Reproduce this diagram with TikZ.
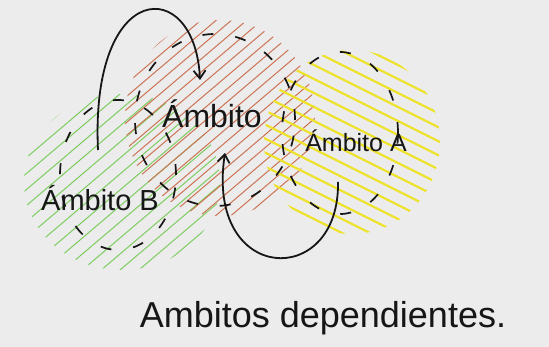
\documentclass[tikz,border=0pt]{standalone}
\usepackage{fontspec}
\setmainfont{Liberation Sans}
\usetikzlibrary{arrows.meta,shapes.geometric}
\definecolor{bg}{RGB}{236,236,236}
\definecolor{hgreen}{RGB}{125,205,95}
\definecolor{hred}{RGB}{205,115,85}
\definecolor{hyellow}{RGB}{238,226,40}
\definecolor{ink}{RGB}{22,22,22}
\begin{document}
\begin{tikzpicture}[x=1pt,y=-1pt,
  region/.style={draw=ink, line width=1.7pt, dash pattern=on 11pt off 22pt, ellipse, inner sep=0pt},
  hatchg/.style={hgreen, line width=1pt},
  hatchr/.style={hred, line width=1pt},
  hatchy/.style={hyellow, line width=2.2pt},
  flow/.style={ink, line width=1.8pt, -{Straight Barb[length=8pt,width=12pt,line width=1.8pt]}},
  lbl/.style={text=ink, inner sep=0pt}
]
\fill[bg] (0,0) rectangle (549,347);
\useasboundingbox (0,0) rectangle (549,347);

% green hatching (Ambito B)
\begin{scope}
  \clip (122,182) ellipse [x radius=98, y radius=88];
  \foreach \c in {100,116,...,520} \draw[hatchg] (0,\c) -- (550,\c-467.5);
\end{scope}
% red hatching (Ambito)
\begin{scope}
  \clip (220,118) ellipse [x radius=95, y radius=98];
  \foreach \c in {100,113,...,560} \draw[hatchr] (0,\c) -- (550,\c-467.5);
\end{scope}
% yellow hatching (Ambito A)
\begin{scope}
  \clip (352,142) ellipse [x radius=88, y radius=92];
  \foreach \c in {-260,-246,...,120} \draw[hatchy] (0,\c) -- (550,\c+275);
\end{scope}

% dashed regions
\node[region, minimum width=160pt, minimum height=172pt] (rc) at (215,120) {};
\node[region, minimum width=116pt, minimum height=150pt] (rb) at (118,175) {};
\node[region, minimum width=116pt, minimum height=162pt] (ra) at (340,133) {};

% labels
\node[lbl, font=\fontsize{32}{32}\selectfont] (tc) at (212,114) {Ámbito};
\node[lbl, font=\fontsize{25}{25}\selectfont] (ta) at (356,141) {Ámbito A};
\node[lbl, font=\fontsize{29}{29}\selectfont] (tb) at (100,198) {Ámbito B};
\node[lbl, font=\fontsize{36}{36}\selectfont] (title) at (323,318) {Ambitos dependientes.};

% arrows
\coordinate (bout) at (98,150);
\coordinate (cin1) at (200,80);
\coordinate (aout) at (338,182);
\coordinate (cin2) at (225,153);
\draw[flow] (bout) .. controls (90,-22) and (195,-25) .. (cin1);
\draw[flow] (aout) .. controls (340,290) and (205,285) .. (cin2);
\end{tikzpicture}
\end{document}
